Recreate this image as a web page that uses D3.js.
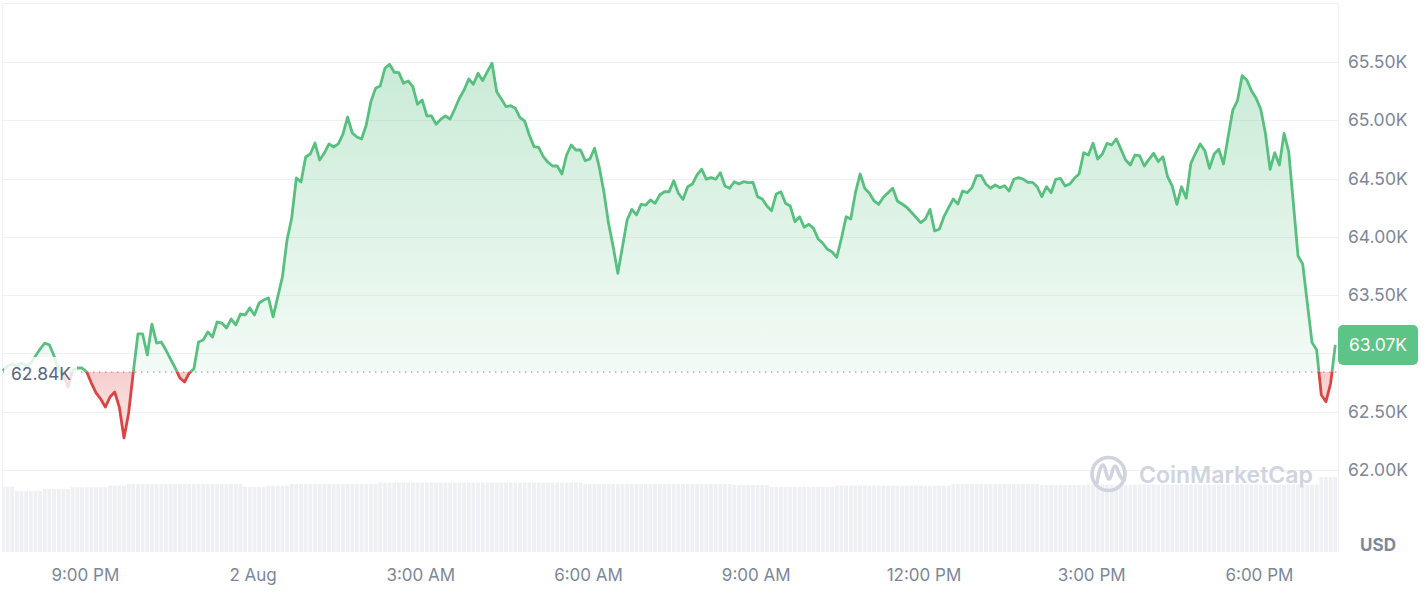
<!DOCTYPE html>
<html><head><meta charset="utf-8">
<script src="https://cdn.jsdelivr.net/npm/d3@7"></script>
<style>
html,body{margin:0;padding:0;background:#fff;}
svg{display:block;font-family:Inter,"Noto Sans",sans-serif;}
</style></head><body>
<svg id="chart" width="1426" height="600"></svg>
<script>
// ---------- DATA ----------
const startTime = "2024-08-01T19:32:00Z";
const stepMinutes = 5;
const baseline = 62840;
const lastPrice = 63070;
const prices = [
62852,62892,62909,62892,62918,62892,62918,62978,63038,63089,
63072,62978,62858,62815,62712,62858,62875,62875,62841,
62746,62661,62609,62540,62626,62669,62540,62275,62489,
62841,63167,63167,62987,63252,63089,63098,63029,62952,62875,
62789,62755,62832,62866,63098,63115,63184,63141,63270,63261,
63218,63295,63244,63338,63330,63390,63330,63433,63458,63476,
63313,63484,63656,63973,64162,64505,64471,64685,64711,64805,
64659,64719,64797,64771,64797,64882,65028,64891,64857,64840,
64960,65160,65274,65294,65446,65480,65412,65409,65317,65337,
65288,65137,65174,65039,65037,64966,65009,65037,65011,65097,
65189,65260,65354,65309,65403,65340,65417,65489,65245,65183,
65117,65125,65103,65022,64994,64874,64774,64768,64688,64640,
64608,64608,64539,64702,64788,64745,64745,64653,64668,64760,
64602,64387,64116,63916,63687,63916,64145,64236,64188,64279,
64273,64316,64288,64359,64387,64387,64482,64374,64322,64430,
64453,64531,64580,64494,64508,64494,64550,64436,64417,64473,
64453,64473,64465,64468,64345,64325,64265,64224,64368,64387,
64288,64265,64130,64173,64082,64108,64073,63982,63945,63893,
63870,63825,63988,64173,64153,64379,64539,64417,64374,64308,
64279,64339,64379,64417,64308,64282,64254,64211,64168,64122,
64153,64236,64050,64065,64173,64250,64325,64282,64393,64379,
64422,64525,64525,64453,64417,64445,64422,64439,64393,64494,
64508,64496,64468,64468,64430,64345,64430,64379,64494,64502,
64436,64453,64502,64539,64722,64702,64803,64668,64711,64803,
64788,64840,64751,64659,64616,64702,64696,64608,64665,64717,
64645,64688,64516,64436,64279,64430,64331,64631,64717,64797,
64739,64588,64711,64751,64625,64859,65088,65168,65383,65346,
65254,65189,65094,64888,64580,64722,64616,64888,64731,64288,
63836,63767,63430,63095,63029,62643,62586,62744,63072
];
// volume, billions USD
const volumes = [
32.6,32.6,32.6,30.5,30.5,30.5,30.5,30.5,30.5,31.5,
31.5,31.5,31.5,31.5,31.5,32.4,32.4,32.4,32.4,32.4,
32.4,32.4,32.4,33.2,33.2,33.2,33.2,34.0,
34.0,34.0,34.0,34.0,34.0,34.0,34.0,34.0,34.0,34.0,
34.0,34.0,34.0,34.0,34.0,34.0,34.0,34.0,34.0,34.0,
34.0,34.0,34.0,34.0,32.6,32.6,32.6,32.6,32.6,33.2,
33.2,33.2,33.2,33.2,34.0,34.0,34.0,34.0,34.0,34.0,
34.0,34.0,34.0,34.0,34.0,34.0,34.0,34.0,34.0,34.0,
34.0,34.0,34.0,34.7,34.7,34.7,34.7,34.7,34.7,34.7,
34.7,34.7,34.7,34.7,34.7,34.7,34.7,34.7,34.7,34.7,
34.7,34.7,34.7,34.7,34.7,34.7,34.7,34.7,34.7,34.7,
34.7,34.7,34.7,34.7,34.7,34.7,34.7,34.7,34.7,34.7,
34.7,34.7,34.7,34.7,34.7,34.7,34.7,34.0,34.0,34.0,
34.0,34.0,34.0,34.0,34.0,34.0,34.0,34.0,34.0,34.0,
34.0,34.0,34.0,34.0,34.0,34.0,34.0,34.0,34.0,34.0,
34.0,34.0,34.0,34.0,34.0,34.0,34.0,34.0,34.0,33.5,
33.5,33.5,33.5,33.5,33.5,33.5,33.5,32.6,32.6,32.6,
32.6,32.6,32.6,32.6,32.6,32.6,32.6,32.6,32.6,32.6,
32.6,33.2,33.2,33.2,33.2,33.2,33.2,33.2,33.2,33.2,
33.2,33.2,33.2,33.2,33.2,33.2,33.2,33.2,33.2,33.2,
33.2,33.2,33.2,33.2,33.2,33.2,34.0,34.0,34.0,34.0,
34.0,34.0,34.0,34.0,34.0,34.0,34.0,34.0,34.0,34.0,
34.0,34.0,34.0,34.0,34.0,33.5,33.5,33.5,33.5,33.5,
33.5,33.5,33.5,33.5,33.5,33.7,33.7,33.7,33.7,33.7,
33.7,33.7,33.7,33.7,33.7,33.7,33.7,33.7,33.7,33.7,
33.7,33.7,33.7,33.7,33.7,33.7,33.7,33.7,33.7,33.7,
33.7,33.7,33.7,33.7,33.7,33.7,33.7,33.7,33.7,33.7,
33.7,33.7,33.7,33.7,33.7,33.7,33.7,33.7,33.7,33.7,
33.7,33.7,33.7,33.7,33.7,37.5,37.5,37.5,37.5
];
const yTicks = [62000,62500,63000,63500,64000,64500,65000,65500];
const xTicks = ["2024-08-01T21:00:00Z","2024-08-02T00:00:00Z","2024-08-02T03:00:00Z","2024-08-02T06:00:00Z",
                "2024-08-02T09:00:00Z","2024-08-02T12:00:00Z","2024-08-02T15:00:00Z","2024-08-02T18:00:00Z"];
const xTickLabels = ["9:00 PM","2 Aug","3:00 AM","6:00 AM","9:00 AM","12:00 PM","3:00 PM","6:00 PM"];
const currencyLabel = "USD";
const watermark = "CoinMarketCap";

// ---------- STYLE ----------
const GREEN = "#57c07f", GREEN_BOX = "#5cc486", RED = "#dc4444";
const TEXT = "#7d879a", TEXT_DARK = "#58667e", GRID = "#eff1f4";
const L = 2, R = 1338, T = 3, B = 552;
const FS = 17.5;

const svg = d3.select("#chart");
const t0 = new Date(startTime);
const data = prices.map((v, i) => ({ t: new Date(+t0 + i * stepMinutes * 60000), v, vol: volumes[i] }));

const x = d3.scaleUtc().domain([data[0].t, data[data.length - 1].t]).range([2.85, 1335.3]);
const y = d3.scaleLinear().domain([62000, 65500]).range([470, 62]);
const yVol = d3.scaleLinear().domain([0, 40]).range([B, 472]);
const yBase = y(baseline);
const yLast = y(prices[prices.length - 1]);

const defs = svg.append("defs");
defs.append("clipPath").attr("id", "plotClip").append("rect").attr("x", L).attr("y", T).attr("width", R - L).attr("height", B - T);
defs.append("clipPath").attr("id", "above").append("rect").attr("x", 0).attr("y", 0).attr("width", 1426).attr("height", yBase);
defs.append("clipPath").attr("id", "below").append("rect").attr("x", 0).attr("y", yBase).attr("width", 1426).attr("height", 600 - yBase);

const gGreen = defs.append("linearGradient").attr("id", "gGreen").attr("gradientUnits", "userSpaceOnUse")
  .attr("x1", 0).attr("x2", 0).attr("y1", y(d3.max(prices))).attr("y2", yBase);
gGreen.append("stop").attr("offset", 0).attr("stop-color", GREEN).attr("stop-opacity", 0.32);
gGreen.append("stop").attr("offset", 1).attr("stop-color", GREEN).attr("stop-opacity", 0.07);
const gRed = defs.append("linearGradient").attr("id", "gRed").attr("gradientUnits", "userSpaceOnUse")
  .attr("x1", 0).attr("x2", 0).attr("y1", yBase).attr("y2", y(d3.min(prices)));
gRed.append("stop").attr("offset", 0).attr("stop-color", RED).attr("stop-opacity", 0.26);
gRed.append("stop").attr("offset", 1).attr("stop-color", RED).attr("stop-opacity", 0.12);

// volume bars
const step = x(data[1].t) - x(data[0].t);
svg.append("g").attr("clip-path", "url(#plotClip)").selectAll("rect").data(data).join("rect")
  .attr("x", d => x(d.t) - step / 2 + 0.4).attr("width", step - 0.8)
  .attr("y", d => yVol(d.vol)).attr("height", d => B - yVol(d.vol))
  .attr("fill", "#eef0f4");

// grid
svg.append("g").selectAll("line").data(yTicks).join("line")
  .attr("x1", L).attr("x2", R).attr("y1", d => Math.round(y(d)) + 0.5).attr("y2", d => Math.round(y(d)) + 0.5)
  .attr("stroke", GRID).attr("stroke-width", 1.2);
// frame
svg.append("path").attr("d", `M${L + 0.5},${B} V${T + 0.5} H${R + 0.5} V${B}`)
  .attr("fill", "none").attr("stroke", GRID).attr("stroke-width", 1.2);

// watermark
const wm = svg.append("g").attr("fill", "none").attr("stroke", "#cfd4df");
wm.append("circle").attr("cx", 1108.5).attr("cy", 474).attr("r", 16.5).attr("stroke-width", 3.6);
wm.append("path").attr("d", "M1097,483 C1099,470 1101,465 1103,465 C1106,465 1106,479 1109,479 C1112,479 1112,466 1115,466 C1118,466 1118,478 1124,480")
  .attr("stroke-width", 3.6).attr("stroke-linecap", "round").attr("stroke-linejoin", "round");
svg.append("text").attr("x", 1139).attr("y", 483).attr("font-size", 23).attr("font-weight", 600)
  .attr("fill", "#cfd4df").text(watermark);

// baseline dotted
svg.append("line").attr("x1", 3).attr("x2", R).attr("y1", yBase).attr("y2", yBase)
  .attr("stroke", "#9aa2b0").attr("stroke-width", 1.4).attr("stroke-dasharray", "1.4,4.6");

// areas & lines
const area = d3.area().x(d => x(d.t)).y0(yBase).y1(d => y(d.v));
const line = d3.line().x(d => x(d.t)).y(d => y(d.v));
const above = svg.append("g").attr("clip-path", "url(#above)");
above.append("path").datum(data).attr("d", area).attr("fill", "url(#gGreen)");
above.append("path").datum(data).attr("d", line).attr("fill", "none").attr("stroke", GREEN)
  .attr("stroke-width", 2.8).attr("stroke-linejoin", "round");
const below = svg.append("g").attr("clip-path", "url(#below)");
below.append("path").datum(data).attr("d", area).attr("fill", "url(#gRed)");
below.append("path").datum(data).attr("d", line).attr("fill", "none").attr("stroke", RED)
  .attr("stroke-width", 2.8).attr("stroke-linejoin", "round");

// baseline label
svg.append("rect").attr("x", 4).attr("y", 357).attr("width", 73).attr("height", 35)
  .attr("fill", "#fff").attr("opacity", 0.82);
svg.append("text").attr("x", 11).attr("y", yBase + 3).attr("dominant-baseline", "middle")
  .attr("font-size", FS).attr("fill", TEXT_DARK).text(d3.format(".2f")(baseline / 1000) + "K");

// y axis (labels hidden where the current-price box sits)
const yAxis = d3.axisRight(y).tickValues(yTicks.filter(v => Math.abs(y(v) - yLast) > 22)).tickSize(0).tickPadding(10)
  .tickFormat(d => (d / 1000).toFixed(2) + "K");
const gy = svg.append("g").attr("transform", `translate(${R},0)`).call(yAxis);
gy.select(".domain").remove();
gy.selectAll("text").attr("font-size", FS).attr("fill", TEXT).attr("font-family", "Inter,'Noto Sans',sans-serif");

// x axis
const xAxis = d3.axisBottom(x).tickValues(xTicks.map(s => new Date(s))).tickSize(0).tickPadding(17)
  .tickFormat((d, i) => xTickLabels[i]);
const gx = svg.append("g").attr("transform", `translate(0,${B})`).call(xAxis);
gx.select(".domain").remove();
gx.selectAll("text").attr("font-size", 17).attr("fill", TEXT).attr("font-family", "Inter,'Noto Sans',sans-serif");

// USD
svg.append("text").attr("x", 1378).attr("y", 546).attr("text-anchor", "middle").attr("dominant-baseline", "middle")
  .attr("font-size", 17).attr("font-weight", 700).attr("fill", TEXT).text(currencyLabel);

// current price label
svg.append("rect").attr("x", R).attr("y", yLast - 20).attr("width", 80).attr("height", 40).attr("rx", 5)
  .attr("fill", GREEN_BOX);
svg.append("text").attr("x", R + 40).attr("y", yLast + 1).attr("text-anchor", "middle").attr("dominant-baseline", "middle")
  .attr("font-size", FS).attr("fill", "#fff").text((lastPrice / 1000).toFixed(2) + "K");
</script>
</body></html>
